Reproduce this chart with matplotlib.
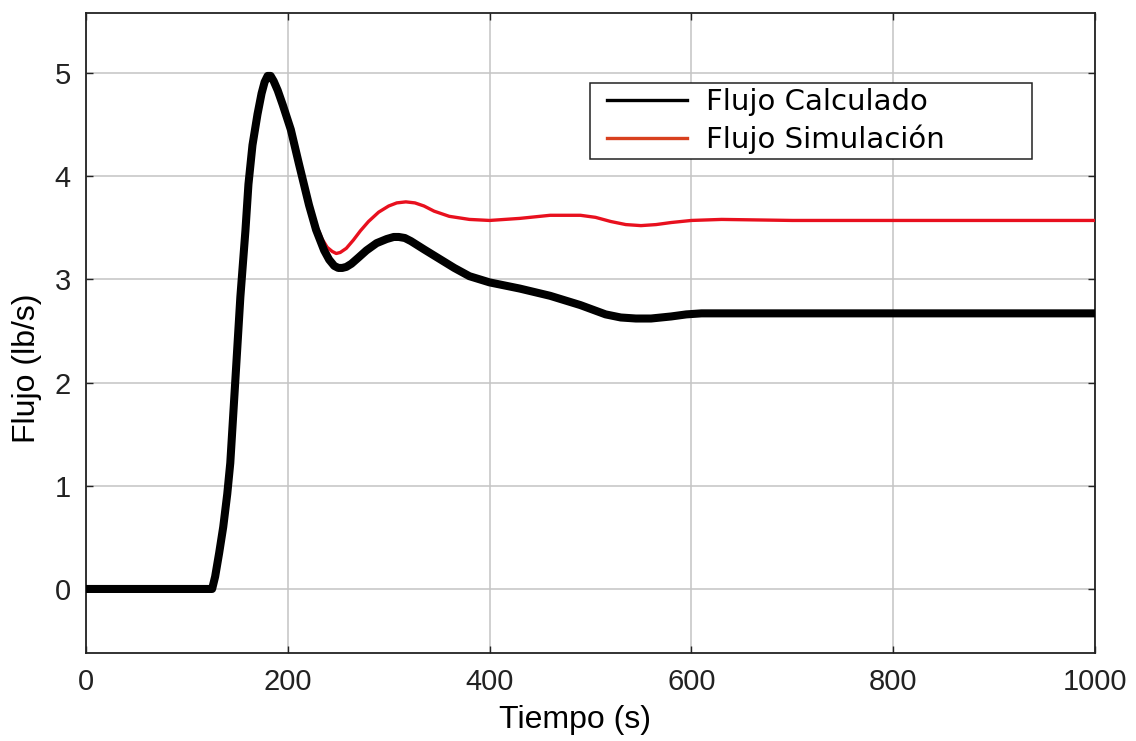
import matplotlib
matplotlib.use("Agg")
import matplotlib.pyplot as plt
from matplotlib.lines import Line2D
from matplotlib.patches import Rectangle

# values
t_calc = [0, 125, 128, 132, 136, 140, 143, 148, 153, 158, 161, 165, 170, 174, 177, 180, 183,
          186, 190, 195, 203, 211, 221, 228, 236, 241, 246, 250, 254, 258, 263, 270, 278, 288,
          298, 305, 310, 316, 322, 335, 350, 365, 380, 400, 430, 460, 490, 515, 530, 545, 560,
          580, 595, 610, 650, 1000]
flujo_calc = [0, 0, 0.12, 0.35, 0.60, 0.92, 1.22, 2.02, 2.83, 3.47, 3.92, 4.30, 4.60, 4.80, 4.91,
              4.97, 4.97, 4.92, 4.83, 4.69, 4.45, 4.12, 3.72, 3.48, 3.28, 3.19, 3.13, 3.11, 3.11,
              3.12, 3.15, 3.21, 3.28, 3.35, 3.39, 3.41, 3.41, 3.40, 3.37, 3.29, 3.20, 3.11, 3.03,
              2.97, 2.91, 2.84, 2.75, 2.66, 2.63, 2.62, 2.62, 2.64, 2.66, 2.67, 2.67, 2.67]

t_sim = [0, 125, 128, 132, 136, 140, 143, 148, 153, 158, 161, 165, 170, 174, 177, 180, 183,
         186, 190, 195, 203, 211, 221, 228, 234, 239, 244, 248, 252, 258, 265, 272, 280, 290,
         300, 308, 317, 326, 335, 345, 360, 380, 400, 430, 460, 490, 505, 520, 535, 550, 565,
         580, 600, 630, 700, 800, 1000]
flujo_sim = [0, 0, 0.12, 0.35, 0.60, 0.92, 1.22, 2.02, 2.83, 3.47, 3.92, 4.30, 4.60, 4.80, 4.91,
             4.97, 4.97, 4.92, 4.83, 4.69, 4.45, 4.12, 3.74, 3.53, 3.39, 3.31, 3.27, 3.25, 3.26,
             3.30, 3.38, 3.47, 3.56, 3.65, 3.71, 3.74, 3.75, 3.74, 3.71, 3.66, 3.61, 3.58, 3.57,
             3.59, 3.62, 3.62, 3.60, 3.56, 3.53, 3.52, 3.53, 3.55, 3.57, 3.58, 3.57, 3.57, 3.57]

x_ticks = [0, 200, 400, 600, 800, 1000]
y_ticks = [0, 1, 2, 3, 4, 5]
labels = ["Flujo Calculado", "Flujo Simulación"]

fig = plt.figure(figsize=(11.36, 7.41), dpi=100)
ax = fig.add_axes([0.0757, 0.1188, 0.8882, 0.8637])

ax.plot(t_sim, flujo_sim, color="#e8101e", lw=2.4, zorder=3)
ax.plot(t_calc, flujo_calc, color="black", lw=5.8, zorder=4,
        solid_joinstyle="round", solid_capstyle="butt")

ax.set_xlim(0, 1000)
ax.set_ylim(-0.62, 5.58)
ax.set_xticks(x_ticks)
ax.set_yticks(y_ticks)
ax.grid(True, color="#c4c4c4", lw=1.1)
ax.set_axisbelow(True)
ax.tick_params(direction="in", length=5, width=1, top=True, right=True,
               labelsize=21, pad=11, colors="#222222")
for s in ax.spines.values():
    s.set_linewidth(1.3)
    s.set_color("#222222")
for lab in ax.get_xticklabels() + ax.get_yticklabels():
    lab.set_family("Liberation Sans")

ax.set_xlabel("Tiempo (s)", fontsize=23, family="Liberation Sans", va="center")
ax.set_ylabel("Flujo (lb/s)", fontsize=23, family="Liberation Sans", va="center")
ax.xaxis.set_label_coords(0.4846, -0.1050)
ax.yaxis.set_label_coords(-0.0585, 0.445)

# legend box drawn as in the reference (wide right margin)
ax.add_patch(Rectangle((0.4995, 0.7719), 0.438, 0.1187, transform=ax.transAxes,
                       facecolor="white", edgecolor="#222222", lw=1.1, zorder=9))
handles = [Line2D([], [], color="black", lw=2.4),
           Line2D([], [], color="#d8401e", lw=2.4)]
leg = ax.legend(handles, labels, loc="upper left", bbox_to_anchor=(0.5104, 0.8920),
                borderaxespad=0, frameon=False,
                prop={"family": "DejaVu Sans", "size": 21}, handlelength=2.74,
                handletextpad=0.65, labelspacing=0.3, borderpad=0.2)
leg.set_zorder(10)

fig.savefig("out.png", dpi=100)
